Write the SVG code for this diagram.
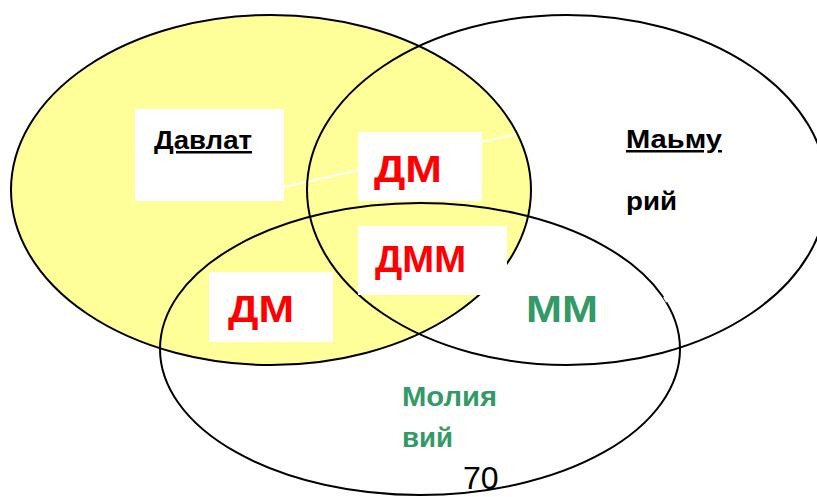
<svg xmlns="http://www.w3.org/2000/svg" width="817" height="497" viewBox="0 0 817 497">
<style>
.ol{fill:none;stroke:#000;stroke-width:2}
.box{fill:#fff}
.t{font-family:"Liberation Sans",Arial,sans-serif;font-weight:bold}
.red{fill:#ff0000;font-size:36px}
.grn{fill:#339966}
.blk{fill:#000;font-size:25px}
</style>
<rect width="817" height="497" fill="#fff"/>
<g id="state-fill">
<ellipse cx="271" cy="190" rx="260" ry="175" fill="#ffff99"/>
</g>
<g id="connectors">
<line x1="284" y1="187" x2="517" y2="134" stroke="#fff" stroke-width="2"/>
</g>
<g id="outlines">
<ellipse id="state" class="ol" cx="271" cy="190" rx="260" ry="175"/>
<ellipse id="info" class="ol" cx="567" cy="190" rx="260" ry="175"/>
<ellipse id="finance" class="ol" cx="420" cy="349" rx="260" ry="146"/>
<line x1="664" y1="297" x2="667" y2="302" stroke="#fff" stroke-width="2"/>
</g>
<g id="node-davlat">
<rect class="box" x="135" y="109" width="149" height="92"/>
<text class="t blk" x="154" y="149" textLength="98" lengthAdjust="spacingAndGlyphs" text-decoration="underline">Давлат</text>
</g>
<g id="node-dm-top">
<rect class="box" x="358" y="132" width="124" height="69"/>
<text class="t red" x="374" y="182" textLength="68" lengthAdjust="spacingAndGlyphs">ДМ</text>
</g>
<g id="node-dmm">
<rect class="box" x="358" y="226" width="149" height="69"/>
<text class="t red" x="375" y="272" textLength="91" lengthAdjust="spacingAndGlyphs">ДММ</text>
</g>
<g id="node-dm-left">
<rect class="box" x="209" y="272" width="124" height="70"/>
<text class="t red" x="228" y="322" textLength="66" lengthAdjust="spacingAndGlyphs">ДМ</text>
</g>
<g id="node-mm">
<text class="t grn" x="526" y="322" font-size="36" textLength="72" lengthAdjust="spacingAndGlyphs">ММ</text>
</g>
<g id="node-info">
<text class="t blk" x="626" y="148" textLength="96" lengthAdjust="spacingAndGlyphs" text-decoration="underline">Маьму</text>
<text class="t blk" x="626" y="210" textLength="51" lengthAdjust="spacingAndGlyphs">рий</text>
</g>
<g id="node-finance">
<text class="t grn" x="402" y="406" font-size="27" textLength="95" lengthAdjust="spacingAndGlyphs">Молия</text>
<text class="t grn" x="402" y="447" font-size="27" textLength="51" lengthAdjust="spacingAndGlyphs">вий</text>
</g>
<g id="page-number">
<text x="463" y="489" font-family="Liberation Sans,Arial,sans-serif" font-size="32" fill="#000">70</text>
</g>
</svg>
